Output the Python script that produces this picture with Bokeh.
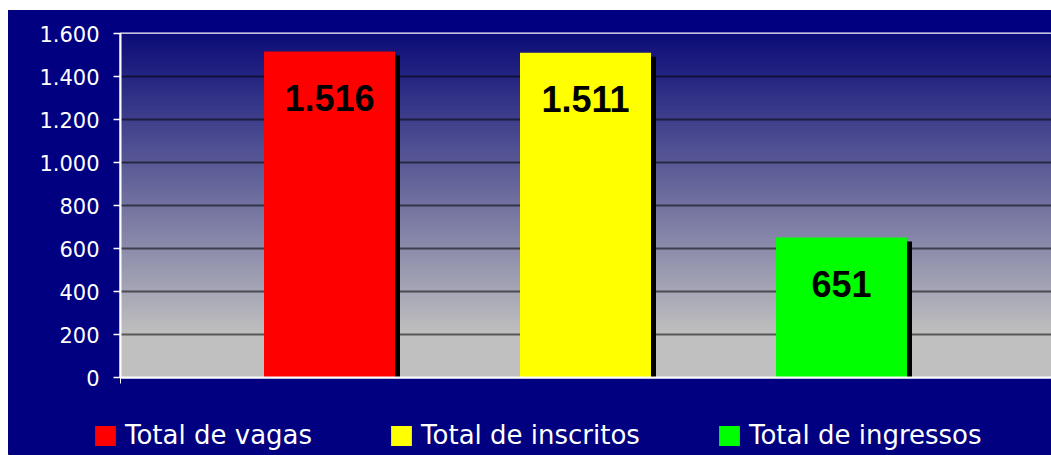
import numpy as np
from bokeh.plotting import figure
from bokeh.models import Range1d, FixedTicker, ColumnDataSource, LabelSet, Legend, LegendItem, Spacer
from bokeh.layouts import row, column
from bokeh.core.properties import value
from bokeh.embed import file_html
from bokeh.resources import INLINE

categories = ["Total de vagas", "Total de inscritos", "Total de ingressos"]
values = [1516, 1511, 651]
colors = ["#FF0000", "#FFFF00", "#00FF00"]
y_ticks = [0, 200, 400, 600, 800, 1000, 1200, 1400, 1600]
y_tick_labels = ["0", "200", "400", "600", "800", "1.000", "1.200", "1.400", "1.600"]

NAVY = "#000080"
W = 1043
H_MAIN = 390
H_LEG = 55
left, right, top, bottom = 112, 0, 23, 23
frame_w = W - left - right
frame_h = H_MAIN - top - bottom
px_per_unit = 256.0
x0 = 1 - 209 / px_per_unit
x1 = x0 + frame_w / px_per_unit
ymax = 1600
y_px = frame_h / ymax

p = figure(width=W, height=H_MAIN, output_backend="svg", toolbar_location=None,
           x_range=Range1d(x0, x1), y_range=Range1d(0, ymax),
           min_border_left=left, min_border_right=right,
           min_border_top=top, min_border_bottom=bottom)
p.background_fill_color = NAVY
p.border_fill_color = NAVY
p.outline_line_color = "white"
p.outline_line_width = 2

# gradient background of the plot area
n = 300
ys = np.linspace(0, ymax, n)
t = np.clip((ys - 200) / (ymax - 200), 0, 1)
top_c = np.array([12, 12, 120])
bot_c = np.array([192, 192, 192])
img = np.zeros((n, 1), dtype=np.uint32)
view = img.view(dtype=np.uint8).reshape((n, 1, 4))
for i in range(n):
    c = bot_c + (top_c - bot_c) * t[i]
    view[i, 0, 0] = int(c[0]); view[i, 0, 1] = int(c[1]); view[i, 0, 2] = int(c[2]); view[i, 0, 3] = 255
rimg = p.image_rgba(image=[img], x=x0, y=0, dw=x1 - x0, dh=ymax)
rimg.level = "image"

xs = [i + 1 for i in range(len(values))]
bw = 131 / px_per_unit
sh_dx = 5 / px_per_unit
sh_dy = 4 / y_px

# shadows
p.vbar(x=[x + sh_dx for x in xs], top=[v - sh_dy for v in values], bottom=0, width=bw,
       fill_color="black", line_color=None)

for x, v, c in zip(xs, values, colors):
    p.vbar(x=[x], top=[v], bottom=0, width=bw, fill_color=c, line_color=None)

src = ColumnDataSource(dict(x=xs, y=values, t=[f"{v:,}".replace(",", ".") for v in values]))
labels = LabelSet(x="x", y="y", text="t", source=src, y_offset=-46,
                  text_align="center", text_baseline="middle",
                  text_font=value("Liberation Sans"), text_font_style="bold",
                  text_font_size="36px", text_color="black")
p.add_layout(labels)

# axes
p.yaxis.ticker = FixedTicker(ticks=y_ticks)
p.yaxis.major_label_overrides = {t_: l for t_, l in zip(y_ticks, y_tick_labels)}
p.yaxis.major_label_text_font = "DejaVu Sans"
p.yaxis.major_label_text_font_size = "21px"
p.yaxis.major_label_text_color = "white"
p.yaxis.axis_line_color = "white"
p.yaxis.axis_line_width = 2
p.yaxis.major_tick_line_color = "white"
p.yaxis.major_tick_line_width = 1.5
p.yaxis.major_tick_out = 7
p.yaxis.major_tick_in = 0
p.yaxis.minor_tick_line_color = None
p.yaxis.major_label_standoff = 14

p.xaxis.ticker = FixedTicker(ticks=[x0])
p.xaxis.major_label_overrides = {x0: ""}
p.xaxis.axis_line_color = "white"
p.xaxis.axis_line_width = 2
p.xaxis.major_tick_line_color = "white"
p.xaxis.major_tick_out = 6
p.xaxis.major_tick_in = 0
p.xaxis.minor_tick_line_color = None
p.xaxis.major_label_text_font_size = "1px"

p.xgrid.grid_line_color = None
p.ygrid.ticker = FixedTicker(ticks=y_ticks)
p.ygrid.grid_line_color = "black"
p.ygrid.grid_line_alpha = 0.55
p.ygrid.grid_line_width = 2

# legend strip
p2 = figure(width=W, height=H_LEG, output_backend="svg", toolbar_location=None,
            x_range=Range1d(0, W), y_range=Range1d(0, H_LEG),
            min_border_left=0, min_border_right=0, min_border_top=0, min_border_bottom=0)
p2.axis.visible = False
p2.grid.grid_line_color = None
p2.outline_line_color = None
p2.background_fill_color = NAVY
p2.border_fill_color = NAVY
items = []
for name, c in zip(categories, colors):
    r = p2.vbar(x=[-100], top=[1], bottom=0, width=1, fill_color=c, line_color=None)
    items.append(LegendItem(label=name, renderers=[r]))
legend = Legend(items=items, orientation="horizontal", location=(84, 5),
                spacing=76, glyph_width=26, glyph_height=25, label_standoff=7,
                label_text_font="DejaVu Sans", label_text_font_size="26px",
                label_text_color="white", label_text_baseline="middle",
                label_height=30,
                background_fill_alpha=0, border_line_color=None,
                padding=0, margin=0)
p2.add_layout(legend)

chart = column(p, row(p2), styles={"background-color": NAVY})
layout = row(Spacer(width=8), column(Spacer(height=10), chart))
open("out.html", "w").write(file_html(layout, INLINE))
